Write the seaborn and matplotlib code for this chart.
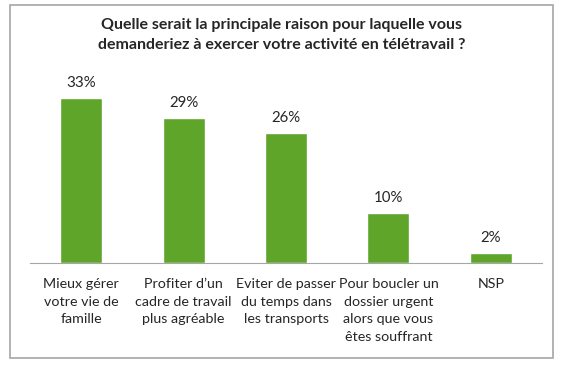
import numpy as np
import pandas as pd
import matplotlib
matplotlib.use("Agg")
import matplotlib.pyplot as plt
import seaborn as sns
from matplotlib.patches import Rectangle

# données
categories = ["Mieux gérer\nvotre vie de\nfamille",
              "Profiter d\u2019un\ncadre de travail\nplus agréable",
              "Eviter de passer\ndu temps dans\nles transports",
              "Pour boucler un\ndossier urgent\nalors que vous\nêtes souffrant",
              "NSP"]
values = [33, 29, 26, 10, 2]
title = "Quelle serait la principale raison pour laquelle vous\ndemanderiez à exercer votre activité en télétravail ?"

sns.set_style("white")
plt.rcParams['font.family'] = ['Lato', 'DejaVu Sans']

df = pd.DataFrame({"cat": categories, "val": values})

fig = plt.figure(figsize=(5.67, 3.65), dpi=100)
ax = fig.add_axes([0.053, 0.279, 0.903, 0.55])

sns.barplot(data=df, x="cat", y="val", color="#5fa52a", width=0.41,
            saturation=1, ax=ax)

for i, v in enumerate(values):
    ax.text(i, v + 1.6, f"{v}%", ha="center", va="bottom", fontsize=10.8)

ax.set_ylim(0, 40)
ax.set_xlim(-0.5, len(values) - 0.5)
ax.set_xlabel("")
ax.set_ylabel("")
ax.set_yticks([])
ax.tick_params(axis="x", which="major", length=0, pad=11, labelsize=10.3)
for lab in ax.get_xticklabels():
    lab.set_linespacing(1.55)
ax.set_xticks(np.arange(-0.5, len(values)), minor=True)
ax.tick_params(axis="x", which="minor", length=5, color="#a6a6a6", width=1)
for s in ["top", "right", "left"]:
    ax.spines[s].set_visible(False)
ax.spines["bottom"].set_color("#a6a6a6")

fig.text(0.497, 0.904, title, ha="center", va="center", fontsize=11.5,
         fontweight="bold", linespacing=1.5)

# cadre gris autour du graphique
fig.patches.append(Rectangle((0.018, 0.02), 0.957, 0.965, transform=fig.transFigure,
                             fill=False, edgecolor="#a6a6a6", linewidth=1.2))

fig.savefig("out.png", dpi=100)
